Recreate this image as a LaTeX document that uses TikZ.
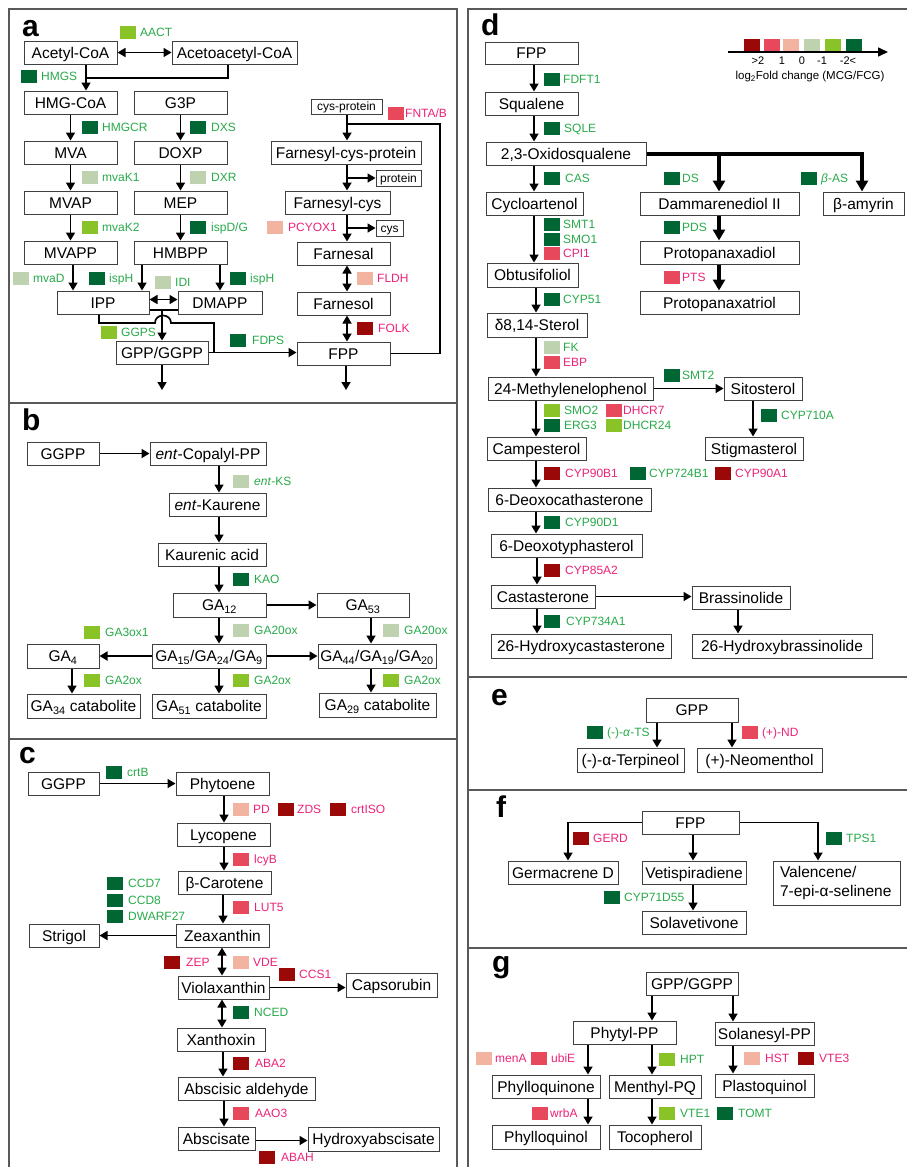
\documentclass[tikz,border=0pt]{standalone}
\usepackage{fontspec}
\setmainfont{Liberation Sans}
\usetikzlibrary{arrows.meta}
\definecolor{c1}{RGB}{155,8,8}
\definecolor{c2}{RGB}{232,72,92}
\definecolor{c3}{RGB}{242,180,160}
\definecolor{c4}{RGB}{190,210,175}
\definecolor{c5}{RGB}{138,195,40}
\definecolor{c6}{RGB}{0,102,52}
\definecolor{tg}{RGB}{40,170,75}
\definecolor{tp}{RGB}{236,35,120}
\newcounter{ez}
\newcommand\enz[6]{\stepcounter{ez}%
 \node[sq,fill=#3] (q\theez) at ({#1+8},{#2+6.5}) {};%
 \node[lab,text=#4] (t\theez) at (#5,{#2+6.5}) {#6};}
\newcommand\bx[7][box]{\node[#1,minimum width={(#5-#3)*1pt},minimum height={(#6-#4)*1pt}] (#2) at ({(#3+#5)/2},{(#4+#6)/2}) {#7};}
\begin{document}
\begin{tikzpicture}[x=1pt,y=-1pt,
 box/.style={draw=black!75,line width=1pt,fill=white,inner sep=0pt,font=\fontsize{15.5}{17}\selectfont,text height=11pt,text depth=0pt},
 sbox/.style={box,font=\fontsize{12}{14}\selectfont,text height=8.6pt},
 sq/.style={inner sep=0pt,minimum width=16pt,minimum height=13pt,draw=none},
 lab/.style={anchor=west,inner sep=0pt,font=\fontsize{12}{14}\selectfont,text height=8.6pt,text depth=0pt},
 arr/.style={line width=1.7pt,-{Triangle[length=8pt,width=9pt]}},
 darr/.style={line width=1.7pt,{Triangle[length=8pt,width=9pt]}-{Triangle[length=8pt,width=9pt]}},
 ln/.style={line width=1.7pt},
 tarr/.style={line width=4pt,-{Triangle[length=11pt,width=12pt]}},
 pframe/.style={draw=black!65,line width=1.2pt},
 plet/.style={anchor=base west,inner sep=0pt,font=\fontsize{30}{30}\selectfont\bfseries}]
\useasboundingbox (0,0) rectangle (907,1167);
\fill[white] (0,0) rectangle (907,1167);
% frames
\draw[pframe] (9,9) rectangle (457,403);
\draw[pframe] (9,403) rectangle (457,739);
\draw[pframe] (9,739) -- (9,1170);
\draw[pframe] (457,739) -- (457,1170);
\draw[pframe] (468,9) rectangle (915,677);
\draw[pframe] (468,677) rectangle (915,790);
\draw[pframe] (468,790) rectangle (915,948);
\draw[pframe] (468,948) -- (468,1170);
% letters
\node[plet] (la) at (22,36) {a};
\node[plet] (lb) at (22,430) {b};
\node[plet] (lc) at (19,763) {c};
\node[plet] (ld) at (481,35) {d};
\node[plet] (le) at (491,705) {e};
\node[plet] (lf) at (496,817) {f};
\node[plet] (lg) at (492,972) {g};

% ================= panel a
\bx{acoa}{24}{41}{117}{64}{Acetyl-CoA}
\bx{aacoa}{172}{41}{297}{64}{Acetoacetyl-CoA}
\bx{hmgcoa}{24}{91}{117}{114}{HMG-CoA}
\bx{g3p}{134}{91}{227}{114}{G3P}
\bx{mva}{24}{141}{117}{164}{MVA}
\bx{doxp}{134}{141}{227}{164}{DOXP}
\bx{mvap}{24}{191}{117}{214}{MVAP}
\bx{mep}{134}{191}{227}{214}{MEP}
\bx{mvapp}{24}{241}{117}{264}{MVAPP}
\bx{hmbpp}{134}{241}{227}{264}{HMBPP}
\bx{ipp}{57}{291}{149}{314}{IPP}
\bx{dmapp}{178}{291}{262}{314}{DMAPP}
\bx{gppggpp}{116}{341}{208}{364}{GPP/GGPP}
\bx{fppa}{297}{342}{390}{365}{FPP}
\bx[sbox]{cysprot}{311}{99}{382}{114}{cys-protein}
\bx{fcp}{271}{141}{421}{164}{Farnesyl-cys-protein}
\bx[sbox]{protein}{376}{170}{421}{186}{protein}
\bx{fcys}{285}{191}{390}{214}{Farnesyl-cys}
\bx[sbox]{cys}{376}{220}{403}{236}{cys}
\bx{farnesal}{297}{242}{390}{265}{Farnesal}
\bx{farnesol}{297}{292}{390}{315}{Farnesol}

\draw[darr] (acoa.east) -- (aacoa.west);
\draw[arr] (acoa.south -| 86,0) -- (hmgcoa.north -| 86,0);
\draw[ln] (aacoa.south -| 228,0) |- (86,78);
\draw[arr] (hmgcoa) -- (mva);
\draw[arr] (mva) -- (mvap);
\draw[arr] (mvap) -- (mvapp);
\draw[arr] (g3p) -- (doxp);
\draw[arr] (doxp) -- (mep);
\draw[arr] (mep) -- (hmbpp);
\draw[arr] (mvapp.south -| 73,0) -- (ipp.north -| 73,0);
\draw[arr] (hmbpp.south -| 142,0) -- (ipp.north -| 142,0);
\draw[arr] (hmbpp.south -| 220,0) -- (dmapp.north -| 220,0);
\draw[darr] ([yshift=3pt]ipp.east) -- ([yshift=3pt]dmapp.west);
\draw[ln] ([yshift=-7.5pt]ipp.east) -- ([yshift=-7.5pt]dmapp.west);
\draw[arr] (gppggpp.north |- 0,310) -- (gppggpp.north);
\draw[ln] (ipp.south -| 99,0) |- (155,323) .. controls (155,313) and (171,313) .. (171,323) -- (214,323) -- (214,352.5);
\draw[arr] (gppggpp.east) -- (gppggpp.east -| fppa.west);
\draw[arr] (gppggpp.south) -- (gppggpp.south |- 0,390);
\draw[arr] (fppa.south -| 346,0) -- (346,390);
\draw[ln] (fppa.east) -| (440,124) -- (347,124);
\draw[arr] (cysprot.south -| 347,0) -- (fcp.north -| 347,0);
\draw[arr] (fcp.south -| 347,0) -- (fcys.north -| 347,0);
\draw[arr] (347,178) -- (protein.west);
\draw[arr] (fcys.south -| 347,0) -- (farnesal.north -| 347,0);
\draw[arr] (347,228) -- (cys.west);
\draw[darr] (farnesal.south -| 347,0) -- (farnesol.north -| 347,0);
\draw[darr] (farnesol.south -| 347,0) -- (fppa.north -| 347,0);

\enz{120}{26}{c5}{tg}{140}{AACT}
\enz{21}{70}{c6}{tg}{41}{HMGS}
\enz{82}{121}{c6}{tg}{102}{HMGCR}
\enz{190}{121}{c6}{tg}{211}{DXS}
\enz{82}{171}{c4}{tg}{102}{mvaK1}
\enz{190}{171}{c4}{tg}{211}{DXR}
\enz{82}{221}{c5}{tg}{102}{mvaK2}
\enz{190}{221}{c6}{tg}{211}{ispD/G}
\enz{13}{272}{c4}{tg}{33}{mvaD}
\enz{89}{272}{c6}{tg}{109}{ispH}
\enz{155}{276}{c4}{tg}{175}{IDI}
\enz{230}{272}{c6}{tg}{250}{ispH}
\enz{101}{326}{c5}{tg}{121}{GGPS}
\enz{230}{334}{c6}{tg}{252}{FDPS}
\enz{388}{107}{c2}{tp}{405}{FNTA/B}
\enz{267}{221}{c3}{tp}{288}{PCYOX1}
\enz{357}{272}{c3}{tp}{377}{FLDH}
\enz{357}{322}{c1}{tp}{378}{FOLK}

% ================= panel b
\bx{ggppb}{27}{442}{99}{465}{GGPP}
\bx{entcpp}{150}{442}{266}{465}{\textit{ent}-Copalyl-PP}
\bx{entk}{169}{493}{266}{516}{\textit{ent}-Kaurene}
\bx{kac}{158}{543}{266}{566}{Kaurenic acid}
\bx{ga12}{173}{593}{266}{617}{GA\textsubscript{12}}
\bx{ga53}{317}{593}{409}{617}{GA\textsubscript{53}}
\bx{ga15}{152}{644}{266}{668}{GA\textsubscript{15}/GA\textsubscript{24}/GA\textsubscript{9}}
\bx{ga4}{27}{644}{99}{668}{GA\textsubscript{4}}
\bx{ga44}{318}{644}{436}{668}{GA\textsubscript{44}/GA\textsubscript{19}/GA\textsubscript{20}}
\bx{ga34}{27}{694}{140}{718}{GA\textsubscript{34} catabolite}
\bx{ga51}{152}{694}{266}{718}{GA\textsubscript{51} catabolite}
\bx{ga29}{319}{693}{436}{717}{GA\textsubscript{29} catabolite}

\draw[arr] (ggppb.east) -- (entcpp.west);
\draw[arr] (entcpp.south -| 219,0) -- (entk.north -| 219,0);
\draw[arr] (entk.south -| 219,0) -- (kac.north -| 219,0);
\draw[arr] (kac.south -| 219,0) -- (ga12.north -| 219,0);
\draw[arr] (ga12.east) -- (ga53.west);
\draw[arr] (ga12.south -| 219,0) -- (ga15.north -| 219,0);
\draw[arr] (ga53.south -| 371,0) -- (ga44.north -| 371,0);
\draw[arr] (ga15.west) -- (ga4.east);
\draw[arr] (ga15.east) -- (ga44.west);
\draw[arr] (ga4.south -| 72,0) -- (ga34.north -| 72,0);
\draw[arr] (ga15.south -| 219,0) -- (ga51.north -| 219,0);
\draw[arr] (ga44.south -| 371,0) -- (ga29.north -| 371,0);

\enz{233}{475}{c4}{tg}{254}{\textit{ent}-KS}
\enz{233}{573}{c6}{tg}{254}{KAO}
\enz{233}{624}{c4}{tg}{254}{GA20ox}
\enz{383}{624}{c4}{tg}{404}{GA20ox}
\enz{84}{626}{c5}{tg}{105}{GA3ox1}
\enz{84}{674}{c5}{tg}{105}{GA2ox}
\enz{233}{674}{c5}{tg}{254}{GA2ox}
\enz{383}{674}{c5}{tg}{404}{GA2ox}

% ================= panel c
\bx{ggppc}{28}{772}{99}{795}{GGPP}
\bx{phyt}{176}{772}{269}{795}{Phytoene}
\bx{lyco}{177}{823}{270}{846}{Lycopene}
\bx{bcar}{178}{871}{271}{894}{β-Carotene}
\bx{zea}{176}{924}{269}{947}{Zeaxanthin}
\bx{strig}{29}{924}{99}{947}{Strigol}
\bx{viola}{178}{976}{269}{999}{Violaxanthin}
\bx{caps}{346}{973}{437}{997}{Capsorubin}
\bx{xant}{177}{1028}{265}{1051}{Xanthoxin}
\bx{absald}{178}{1077}{315}{1100}{Abscisic aldehyde}
\bx{absc}{178}{1127}{255}{1150}{Abscisate}
\bx{hydab}{308}{1127}{439}{1151}{Hydroxyabscisate}

\draw[arr] (ggppc.east) -- (phyt.west);
\draw[arr] (phyt.south -| 224,0) -- (lyco.north -| 224,0);
\draw[arr] (lyco.south -| 224,0) -- (bcar.north -| 224,0);
\draw[arr] (bcar.south -| 223,0) -- (zea.north -| 223,0);
\draw[arr] (zea.west) -- (strig.east);
\draw[darr] (zea.south -| 222,0) -- (viola.north -| 222,0);
\draw[arr] (viola.east) -- (viola.east -| caps.west);
\draw[darr] (viola.south -| 222,0) -- (xant.north -| 222,0);
\draw[arr] (xant.south -| 223,0) -- (absald.north -| 223,0);
\draw[arr] (absald.south -| 224,0) -- (absc.north -| 224,0);
\draw[arr] ([yshift=-2pt]absc.east) -- ([yshift=-2pt]absc.east -| hydab.west);

\enz{106}{766}{c6}{tg}{127}{crtB}
\enz{233}{803}{c3}{tp}{253}{PD}
\enz{278}{803}{c1}{tp}{297}{ZDS}
\enz{330}{803}{c1}{tp}{351}{crtISO}
\enz{233}{853}{c2}{tp}{254}{lcyB}
\enz{107}{877}{c6}{tg}{128}{CCD7}
\enz{107}{894}{c6}{tg}{128}{CCD8}
\enz{107}{910}{c6}{tg}{128}{DWARF27}
\enz{233}{901}{c2}{tp}{254}{LUT5}
\enz{164}{956}{c1}{tp}{186}{ZEP}
\enz{233}{956}{c3}{tp}{253}{VDE}
\enz{279}{968}{c1}{tp}{299}{CCS1}
\enz{233}{1006}{c6}{tg}{254}{NCED}
\enz{233}{1057}{c1}{tp}{255}{ABA2}
\enz{233}{1107}{c2}{tp}{255}{AAO3}
\enz{259}{1151}{c1}{tp}{281}{ABAH}

% ================= panel d
\bx{fppd}{485}{42}{578}{64}{FPP}
\bx{squal}{485}{92}{578}{115}{Squalene}
\bx{oxsq}{486}{142}{646}{165}{2,3-Oxidosqualene}
\bx{cyclo}{486}{192}{583}{215}{Cycloartenol}
\bx{damm}{640}{192}{799}{215}{Dammarenediol II}
\bx{bamy}{823}{192}{904}{215}{β-amyrin}
\bx{ppd}{640}{241}{799}{264}{Protopanaxadiol}
\bx{ppt}{640}{291}{799}{314}{Protopanaxatriol}
\bx{obtu}{487}{263}{578}{287}{Obtusifoliol}
\bx{sterol}{487}{313}{587}{337}{δ8,14-Sterol}
\bx{meth}{488}{377}{653}{400}{24-Methylenelophenol}
\bx{sito}{724}{377}{802}{400}{Sitosterol}
\bx{stig}{705}{437}{803}{460}{Stigmasterol}
\bx{camp}{487}{437}{586}{460}{Campesterol}
\bx{deoxo}{488}{488}{651}{511}{6-Deoxocathasterone}
\bx{deoxt}{491}{534}{642}{557}{6-Deoxotyphasterol}
\bx{cast}{491}{585}{595}{608}{Castasterone}
\bx{brass}{692}{586}{790}{609}{Brassinolide}
\bx{hbras}{692}{634}{872}{658}{26-Hydroxybrassinolide}
\bx{hcast}{491}{634}{671}{658}{26-Hydroxycastasterone}

\draw[arr] (fppd.south -| 534,0) -- (squal.north -| 534,0);
\draw[arr] (squal.south -| 534,0) -- (oxsq.north -| 534,0);
\draw[arr] (oxsq.south -| 534,0) -- (cyclo.north -| 534,0);
\draw[tarr] (oxsq.east) -| (bamy.north -| 862,0);
\draw[tarr] (oxsq.east -| 719,0) -- (damm.north -| 719,0);
\draw[tarr] (damm.south -| 719,0) -- (ppd.north -| 719,0);
\draw[tarr] (ppd.south -| 719,0) -- (ppt.north -| 719,0);
\draw[arr] (cyclo.south -| 534,0) -- (obtu.north -| 534,0);
\draw[arr] (obtu.south -| 536,0) -- (sterol.north -| 536,0);
\draw[arr] (sterol.south -| 536,0) -- (meth.north -| 536,0);
\draw[arr] (meth.east) -- (sito.west);
\draw[arr] (sito.south -| 753,0) -- (stig.north -| 753,0);
\draw[arr] (meth.south -| 536,0) -- (camp.north -| 536,0);
\draw[arr] (camp.south -| 536,0) -- (deoxo.north -| 536,0);
\draw[arr] (deoxo.south -| 536,0) -- (deoxt.north -| 536,0);
\draw[arr] (deoxt.south -| 537,0) -- (cast.north -| 537,0);
\draw[arr] (cast.east) -- (cast.east -| brass.west);
\draw[arr] (brass.south -| 738,0) -- (hbras.north -| 738,0);
\draw[arr] (cast.south -| 537,0) -- (hcast.north -| 537,0);

\enz{544}{73}{c6}{tg}{563}{FDFT1}
\enz{544}{122}{c6}{tg}{564}{SQLE}
\enz{544}{172}{c6}{tg}{565}{CAS}
\enz{664}{172}{c6}{tg}{682}{DS}
\enz{801}{172}{c6}{tg}{821}{\textit{β}-AS}
\enz{664}{221}{c6}{tg}{682}{PDS}
\enz{664}{271}{c2}{tp}{682}{PTS}
\enz{544}{218}{c6}{tg}{563}{SMT1}
\enz{544}{233}{c6}{tg}{563}{SMO1}
\enz{544}{247}{c2}{tp}{563}{CPI1}
\enz{544}{293}{c6}{tg}{563}{CYP51}
\enz{544}{341}{c4}{tg}{563}{FK}
\enz{544}{356}{c2}{tp}{563}{EBP}
\enz{664}{369}{c6}{tg}{682}{SMT2}
\enz{761}{409}{c6}{tg}{781}{CYP710A}
\enz{544}{404}{c5}{tg}{564}{SMO2}
\enz{544}{419}{c6}{tg}{564}{ERG3}
\enz{606}{404}{c2}{tp}{623}{DHCR7}
\enz{606}{419}{c5}{tg}{623}{DHCR24}
\enz{544}{467}{c1}{tp}{565}{CYP90B1}
\enz{630}{467}{c6}{tg}{649}{CYP724B1}
\enz{715}{467}{c1}{tp}{735}{CYP90A1}
\enz{544}{516}{c6}{tg}{565}{CYP90D1}
\enz{544}{564}{c1}{tp}{565}{CYP85A2}
\enz{544}{615}{c6}{tg}{566}{CYP734A1}

% legend
\coordinate (lg0) at (728,52);
\coordinate (lg1) at (888,52);
\draw[line width=1.6pt,-{Triangle[length=10pt,width=9pt]}] (lg0) -- (lg1);
\foreach \c/\xx [count=\i] in {c1/744,c2/764,c3/783,c4/804,c5/825,c6/846}
  \node[inner sep=0pt,minimum width=16pt,minimum height=12pt,fill=\c] (leg\i) at (\xx+8,45) {};
\foreach \t/\xx [count=\i] in {>2/758,1/782,0/802,-1/822,-2</848}
  \node[inner sep=0pt,font=\fontsize{11}{12}\selectfont] (lt\i) at (\xx,61) {\t};
\node[inner sep=0pt,font=\fontsize{11.5}{13}\selectfont] (lgt) at (810,77) {log\textsubscript{2}Fold change (MCG/FCG)};

% ================= panel e
\bx{gppe}{646}{698}{738}{722}{GPP}
\bx{terp}{577}{748}{684}{772}{(-)-α-Terpineol}
\bx{neom}{697}{748}{822}{772}{(+)-Neomenthol}
\draw[arr] (gppe.south -| 657,0) -- (terp.north -| 657,0);
\draw[arr] (gppe.south -| 732,0) -- (neom.north -| 732,0);
\enz{587}{726}{c6}{tg}{607}{(-)-\textit{α}-TS}
\enz{742}{726}{c2}{tp}{762}{(+)-ND}

% ================= panel f
\bx{fppf}{642}{811}{739}{834}{FPP}
\bx{germ}{508}{861}{618}{884}{Germacrene D}
\bx{vetis}{642}{861}{746}{884}{Vetispiradiene}
\node[draw=black!75,line width=1pt,fill=white,inner xsep=7pt,inner ysep=0pt,minimum width=127pt,minimum height=44pt,text width=113pt,align=left,font=\fontsize{15.5}{19}\selectfont] (valen) at (836.5,883) {Valencene/\\\mbox{7-epi-α-selinene}};
\bx{solav}{642}{911}{746}{934}{Solavetivone}
\draw[arr] (fppf.west) -| (germ.north -| 568,0);
\draw[arr] (fppf.south -| 693,0) -- (vetis.north -| 693,0);
\draw[arr] (fppf.east) -| (valen.north -| 818,0);
\draw[arr] (vetis.south -| 693,0) -- (solav.north -| 693,0);
\enz{573}{832}{c1}{tp}{593}{GERD}
\enz{826}{832}{c6}{tg}{846}{TPS1}
\enz{604}{891}{c6}{tg}{624}{CYP71D55}

% ================= panel g
\bx{gppg}{646}{972}{738}{995}{GPP/GGPP}
\bx{phyt2}{573}{1021}{676}{1044}{Phytyl-PP}
\bx{solan}{715}{1022}{814}{1045}{Solanesyl-PP}
\bx{phyq}{492}{1075}{600}{1098}{Phylloquinone}
\bx{menq}{609}{1075}{701}{1098}{Menthyl-PQ}
\bx{plast}{715}{1074}{814}{1097}{Plastoquinol}
\bx{phyl}{492}{1125}{600}{1149}{Phylloquinol}
\bx{toco}{609}{1125}{701}{1149}{Tocopherol}
\draw[arr] (gppg.south -| 652,0) -- (phyt2.north -| 652,0);
\draw[arr] (gppg.south -| 733,0) -- (solan.north -| 733,0);
\draw[arr] (phyt2.south -| 588,0) -- (phyq.north -| 588,0);
\draw[arr] (phyt2.south -| 652,0) -- (menq.north -| 652,0);
\draw[arr] (solan.south -| 733,0) -- (plast.north -| 733,0);
\draw[arr] (phyq.south -| 588,0) -- (phyl.north -| 588,0);
\draw[arr] (menq.south -| 652,0) -- (toco.north -| 652,0);
\enz{476}{1052}{c3}{tp}{495}{menA}
\enz{531}{1052}{c2}{tp}{551}{ubiE}
\enz{659}{1053}{c5}{tg}{680}{HPT}
\enz{744}{1052}{c3}{tp}{765}{HST}
\enz{798}{1052}{c1}{tp}{819}{VTE3}
\enz{532}{1107}{c2}{tp}{550}{wrbA}
\enz{659}{1107}{c5}{tg}{680}{VTE1}
\enz{717}{1107}{c6}{tg}{738}{TOMT}
\end{tikzpicture}
\end{document}
